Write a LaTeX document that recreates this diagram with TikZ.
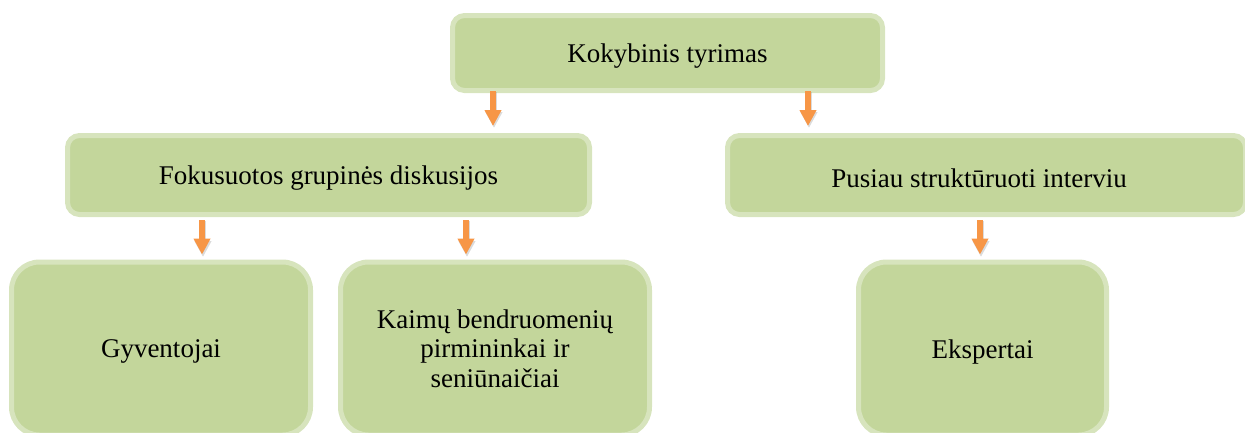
\documentclass[tikz,border=0pt]{standalone}
\usepackage{fontspec}
\setmainfont{Liberation Serif}
\usetikzlibrary{arrows.meta}
\definecolor{boxfill}{HTML}{C3D69B}
\definecolor{boxline}{HTML}{D7E4BD}
\definecolor{arrcol}{HTML}{F79646}
\begin{document}
\begin{tikzpicture}[x=1pt,y=-1pt,
  txt/.style={align=center, inner sep=0pt, font=\fontsize{27}{29.5}\selectfont},
  box/.style={txt, draw=boxline, fill=boxfill, line width=5pt},
  wide/.style={box, rounded corners=12pt},
  tall/.style={box, rounded corners=28pt},
  lbl/.style={label={[txt,yshift=-3pt]center:#1}},
  arr/.style={draw=arrcol, line width=6pt, -{Triangle[width=16pt,length=16pt]}},
  shad/.style={draw=black!40, opacity=0.35, line width=6pt, -{Triangle[width=16pt,length=16pt]}}
]
\useasboundingbox (0,0) rectangle (1245,432);
\node[wide, minimum width=430pt, minimum height=75pt, lbl=Kokybinis tyrimas] (top) at (667.5,53) {};
\node[wide, minimum width=522pt, minimum height=79pt, lbl=Fokusuotos grupinės diskusijos] (fok) at (328.5,175) {};
\node[wide, minimum width=518pt, minimum height=79pt] (pus) at (986.5,175) {};
\node[txt] (pustxt) at (979,178) {Pusiau struktūruoti interviu};
\node[tall, minimum width=299pt, minimum height=173pt, lbl=Gyventojai] (gyv) at (161,348.5) {};
\node[tall, minimum width=309pt, minimum height=173pt] (kai) at (495,348.5) {Kaimų bendruomenių\\pirmininkai ir\\seniūnaičiai};
\node[tall, minimum width=248pt, minimum height=173pt, lbl=Ekspertai] (eks) at (982.5,348.5) {};
% shadows
\foreach \xa/\ya/\yb in {493/93/133, 808/93/133}{
  \draw[shad, shorten <=-1pt, shorten >=5pt] (\xa+1,\ya) -- (\xa+1,\yb);
}
\foreach \xa in {202,466,980}{
  \draw[shad, shorten <=4pt, shorten >=3pt] (\xa+1,217) -- (\xa+1,260);
}
% arrows
\draw[arr, shorten <=-2pt, shorten >=7pt] (top.south -| 493,0) -- (fok.north -| 493,0);
\draw[arr, shorten <=-2pt, shorten >=7pt] (top.south -| 808,0) -- (pus.north -| 808,0);
\draw[arr, shorten <=3pt, shorten >=5pt] (fok.south -| 202,0) -- (gyv.north -| 202,0);
\draw[arr, shorten <=3pt, shorten >=5pt] (fok.south -| 466,0) -- (kai.north -| 466,0);
\draw[arr, shorten <=3pt, shorten >=5pt] (pus.south -| 980,0) -- (eks.north -| 980,0);
\end{tikzpicture}
\end{document}
